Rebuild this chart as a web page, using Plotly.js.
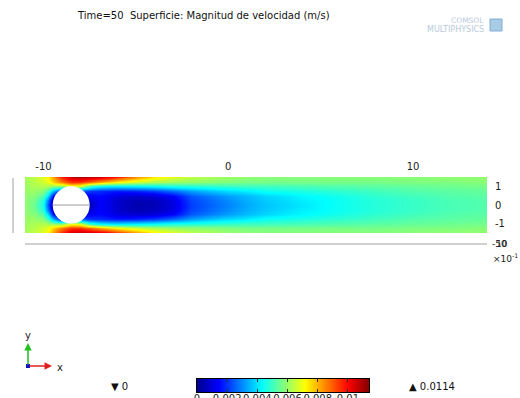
<!DOCTYPE html>
<html>
<head>
<meta charset="utf-8">
<script src="https://cdn.plot.ly/plotly-3.0.1.min.js"></script>
<style>html,body{margin:0;padding:0;background:#fff;}#chart{width:520px;height:398px;}</style>
</head>
<body>
<div id="chart"></div>
<script>
// ---- data ----
// x stations along the channel (m)
const xStations = [-11, -10.5, -10, -9.75, -9.5, -9, -8.5, -8, -7.5, -7, -6.5, -6, -5, -4, -3, -2, -1, 0, 1, 2, 4, 6, 8, 10, 12, 14];
// y positions across the channel (m)
const yPositions = [-1.5, -1.25, -1, -0.75, -0.5, -0.25, 0, 0.25, 0.5, 0.75, 1, 1.25, 1.5];
// velocity magnitude (m/s): one profile (bottom -> top) per x station
const speedProfiles = [
  [0.0061,0.0061,0.0060,0.0060,0.0059,0.0059,0.0059,0.0059,0.0059,0.0060,0.0060,0.0061,0.0061],
  [0.0064,0.0063,0.0062,0.0060,0.0058,0.0056,0.0055,0.0056,0.0058,0.0060,0.0062,0.0063,0.0064],
  [0.0068,0.0066,0.0063,0.0058,0.0052,0.0047,0.0045,0.0047,0.0052,0.0058,0.0063,0.0066,0.0068],
  [0.0072,0.0069,0.0062,0.0050,0.0038,0.0028,0.0024,0.0028,0.0038,0.0050,0.0062,0.0069,0.0072],
  [0.0082,0.0076,0.0060,0.0035,0.0015,0.0007,0.0003,0.0007,0.0015,0.0035,0.0060,0.0076,0.0082],
  [0.0096,0.0086,0.0060,0.0015,0.0005,0.0003,0.0003,0.0003,0.0005,0.0015,0.0060,0.0086,0.0096],
  [0.0106,0.0094,0.0070,0.0040,0.0010,0.0003,0.0003,0.0003,0.0010,0.0040,0.0070,0.0094,0.0106],
  [0.0108,0.0094,0.0068,0.0025,0.0008,0.0003,0.0003,0.0003,0.0008,0.0025,0.0068,0.0094,0.0108],
  [0.0107,0.0088,0.0050,0.0020,0.0013,0.0009,0.0005,0.0009,0.0013,0.0020,0.0050,0.0088,0.0107],
  [0.0105,0.0082,0.0044,0.0019,0.0015,0.0014,0.0014,0.0014,0.0015,0.0019,0.0044,0.0082,0.0105],
  [0.0102,0.0077,0.0042,0.0018,0.0013,0.0012,0.0012,0.0012,0.0013,0.0018,0.0042,0.0077,0.0102],
  [0.0096,0.0072,0.0041,0.0017,0.0010,0.0008,0.0008,0.0008,0.0010,0.0017,0.0041,0.0072,0.0096],
  [0.0084,0.0066,0.0042,0.0018,0.0008,0.0005,0.0004,0.0005,0.0008,0.0018,0.0042,0.0066,0.0084],
  [0.0074,0.0062,0.0044,0.0021,0.0009,0.0006,0.0005,0.0006,0.0009,0.0021,0.0044,0.0062,0.0074],
  [0.0068,0.0060,0.0046,0.0026,0.0014,0.0011,0.0010,0.0011,0.0014,0.0026,0.0046,0.0060,0.0068],
  [0.0064,0.0059,0.0047,0.0032,0.0024,0.0022,0.0021,0.0022,0.0024,0.0032,0.0047,0.0059,0.0064],
  [0.0062,0.0058,0.0048,0.0036,0.0028,0.0026,0.0025,0.0026,0.0028,0.0036,0.0048,0.0058,0.0062],
  [0.0060,0.0057,0.0049,0.0039,0.0032,0.0030,0.0029,0.0030,0.0032,0.0039,0.0049,0.0057,0.0060],
  [0.0059,0.0056,0.0050,0.0041,0.0035,0.0034,0.0033,0.0034,0.0035,0.0041,0.0050,0.0056,0.0059],
  [0.0058,0.0056,0.0050,0.0044,0.0038,0.0037,0.0036,0.0037,0.0038,0.0044,0.0050,0.0056,0.0058],
  [0.0058,0.0056,0.0051,0.0046,0.0042,0.0041,0.0040,0.0041,0.0042,0.0046,0.0051,0.0056,0.0058],
  [0.0058,0.0056,0.0052,0.0048,0.0045,0.0044,0.0044,0.0044,0.0045,0.0048,0.0052,0.0056,0.0058],
  [0.0058,0.0056,0.0053,0.0050,0.0048,0.0047,0.0047,0.0047,0.0048,0.0050,0.0053,0.0056,0.0058],
  [0.0058,0.0057,0.0054,0.0052,0.0050,0.0049,0.0049,0.0049,0.0050,0.0052,0.0054,0.0057,0.0058],
  [0.0059,0.0057,0.0055,0.0053,0.0052,0.0051,0.0051,0.0051,0.0052,0.0053,0.0055,0.0057,0.0059],
  [0.0059,0.0058,0.0056,0.0054,0.0053,0.0052,0.0052,0.0052,0.0053,0.0054,0.0056,0.0058,0.0059]
];
const speedMin = 0;
const speedMax = 0.0114;
const xTickVals = [-10, 0, 10];
const xTickText = ['-10', '0', '10'];
const yTickVals = [-1, 0, 1];
const yTickText = ['-1', '0', '1'];
const cbTickVals = [0, 0.002, 0.004, 0.006, 0.008, 0.01];
const cbTickText = ['0', '0.002', '0.004', '0.006', '0.008', '0.01'];
// cylinder obstacle (geometry)
const cylCenter = [-8.5, 0];
const cylRadius = 1;

// ---- layout helpers (pixel -> paper, margins are zero) ----
const W = 520, H = 398;
const px = p => p / W;
const py = p => 1 - p / H;

const FONT = 'DejaVu Sans, sans-serif';

const jet = [
  [0, '#00008f'], [0.125, '#0000ff'], [0.375, '#00ffff'],
  [0.625, '#ffff00'], [0.875, '#ff0000'], [1, '#800000']
];

const field = {
  type: 'heatmap',
  x: xStations,
  y: yPositions,
  z: speedProfiles,
  transpose: true,
  zsmooth: 'best',
  zmin: speedMin,
  zmax: speedMax,
  colorscale: jet,
  showscale: false,
  hoverinfo: 'skip',
  xaxis: 'x', yaxis: 'y'
};

// colour legend drawn as its own linear heatmap strip on a second axis pair
const legendStrip = {
  type: 'heatmap',
  x: [speedMin, speedMax],
  y: [0, 1],
  z: [[speedMin, speedMax], [speedMin, speedMax]],
  zsmooth: 'best',
  zmin: speedMin,
  zmax: speedMax,
  colorscale: jet,
  showscale: false,
  hoverinfo: 'skip',
  xaxis: 'x2', yaxis: 'y2'
};

const layout = {
  width: W, height: H,
  margin: {l: 0, r: 0, t: 0, b: 0},
  paper_bgcolor: '#fff', plot_bgcolor: '#fff',
  showlegend: false,
  xaxis: {
    domain: [px(25), px(487)], anchor: 'y',
    range: [-11, 14], side: 'top', tickvals: xTickVals, ticktext: xTickText,
    showgrid: false, zeroline: false, showline: false, ticks: '', ticklabelstandoff: 4,
    tickfont: {family: FONT, size: 10, color: '#222'}
  },
  yaxis: {
    domain: [py(233), py(177)], anchor: 'x',
    range: [-1.5, 1.5], side: 'right', tickvals: yTickVals, ticktext: yTickText,
    showgrid: false, zeroline: false, showline: false, ticks: '', ticklabelstandoff: 7,
    tickfont: {family: FONT, size: 10, color: '#222'}
  },
  xaxis2: {
    domain: [px(197), px(369)], anchor: 'y2',
    range: [speedMin, speedMax], tickvals: cbTickVals, ticktext: cbTickText,
    showgrid: false, zeroline: false, showline: true, mirror: 'allticks',
    linecolor: '#000', linewidth: 1,
    ticks: 'inside', ticklen: 3, tickcolor: '#333', tickangle: 0, ticklabelstandoff: -3,
    tickfont: {family: FONT, size: 10, color: '#222'}
  },
  yaxis2: {
    domain: [py(392), py(379)], anchor: 'x2',
    range: [0, 1], showticklabels: false, ticks: '',
    showgrid: false, zeroline: false, showline: true, mirror: true,
    linecolor: '#000', linewidth: 1
  },
  shapes: [
    {type: 'circle', xref: 'x', yref: 'y',
     x0: cylCenter[0] - cylRadius, x1: cylCenter[0] + cylRadius,
     y0: cylCenter[1] - cylRadius, y1: cylCenter[1] + cylRadius,
     fillcolor: '#ffffff', line: {width: 0}},
    {type: 'line', xref: 'x', yref: 'y',
     x0: cylCenter[0] - cylRadius, x1: cylCenter[0] + cylRadius, y0: cylCenter[1], y1: cylCenter[1],
     line: {color: '#9a9a9a', width: 1}},
    // stray COMSOL axis lines
    {type: 'line', xref: 'paper', yref: 'paper', x0: px(25), x1: px(487), y0: py(244), y1: py(244),
     line: {color: '#a0a0a0', width: 1}},
    {type: 'line', xref: 'paper', yref: 'paper', x0: px(13), x1: px(13), y0: py(233), y1: py(178),
     line: {color: '#a0a0a0', width: 1}},
    // axis triad origin
    {type: 'rect', xref: 'paper', yref: 'paper', x0: px(26), x1: px(30), y0: py(368), y1: py(364),
     fillcolor: '#1010c0', line: {width: 0}},
    // logo cube
    {type: 'rect', xref: 'paper', yref: 'paper', x0: px(490), x1: px(502), y0: py(31), y1: py(19),
     fillcolor: '#a9cbe4', line: {color: '#7fb0d6', width: 1}}
  ],
  annotations: [
    {xref: 'paper', yref: 'paper', x: px(75), y: py(16), xanchor: 'left', yanchor: 'middle',
     text: 'Time=50  Superficie: Magnitud de velocidad (m/s)', showarrow: false,
     font: {family: FONT, size: 10, color: '#111'}},
    {xref: 'paper', yref: 'paper', x: px(485), y: py(20), xanchor: 'right', yanchor: 'middle', borderpad: 0,
     text: 'COMSOL', showarrow: false, font: {family: FONT, size: 7.5, color: '#b8cadb'}},
    {xref: 'paper', yref: 'paper', x: px(485), y: py(29.5), xanchor: 'right', yanchor: 'middle', borderpad: 0,
     text: 'MULTIPHYSICS', showarrow: false, font: {family: FONT, size: 8, color: '#b8cadb'}},
    // triad arrows
    {xref: 'paper', yref: 'paper', x: px(52), y: py(366), ax: -24, ay: 0, axref: 'pixel', ayref: 'pixel',
     text: '', showarrow: true, arrowhead: 2, arrowsize: 1, arrowwidth: 1.5, arrowcolor: '#e02020'},
    {xref: 'paper', yref: 'paper', x: px(28), y: py(343), ax: 0, ay: 23, axref: 'pixel', ayref: 'pixel',
     text: '', showarrow: true, arrowhead: 2, arrowsize: 1, arrowwidth: 1.5, arrowcolor: '#20c020'},
    {xref: 'paper', yref: 'paper', x: px(28), y: py(335), xanchor: 'center', yanchor: 'middle',
     text: 'y', showarrow: false, font: {family: FONT, size: 10, color: '#222'}},
    {xref: 'paper', yref: 'paper', x: px(60), y: py(367), xanchor: 'center', yanchor: 'middle',
     text: 'x', showarrow: false, font: {family: FONT, size: 10, color: '#222'}},
    // min / max markers
    {xref: 'paper', yref: 'paper', x: px(109), y: py(386), xanchor: 'left', yanchor: 'middle',
     text: '▼ 0', showarrow: false, font: {family: FONT, size: 10, color: '#111'}},
    {xref: 'paper', yref: 'paper', x: px(407), y: py(386), xanchor: 'left', yanchor: 'middle',
     text: '▲ 0.0114', showarrow: false, font: {family: FONT, size: 10, color: '#111'}},
    // stray overlapping labels at the right of the bottom line
    {xref: 'paper', yref: 'paper', x: px(490), y: py(244), xanchor: 'left', yanchor: 'middle',
     text: '-50', showarrow: false, font: {family: FONT, size: 9, color: '#222'}},
    {xref: 'paper', yref: 'paper', x: px(494), y: py(244), xanchor: 'left', yanchor: 'middle',
     text: '10', showarrow: false, font: {family: FONT, size: 9, color: '#222'}},
    {xref: 'paper', yref: 'paper', x: px(491), y: py(258), xanchor: 'left', yanchor: 'middle',
     text: '×10<sup>-1</sup>', showarrow: false, font: {family: FONT, size: 9, color: '#222'}}
  ]
};

Plotly.newPlot('chart', [field, legendStrip], layout, {displayModeBar: false, staticPlot: true});
</script>
</body>
</html>
